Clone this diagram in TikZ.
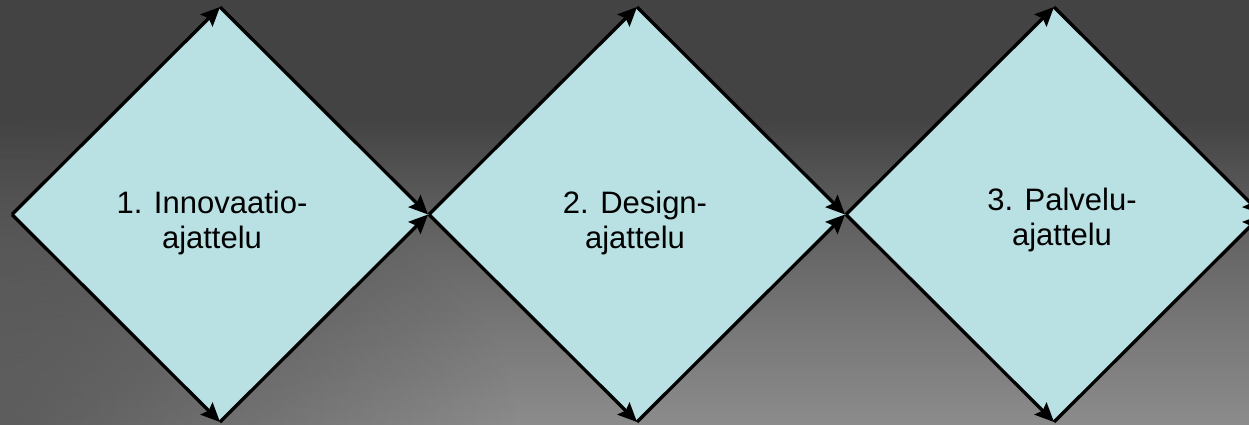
\documentclass[tikz,border=0pt]{standalone}
\usepackage{fontspec}
\setmainfont{Liberation Sans}
\usetikzlibrary{arrows.meta,fadings}
\definecolor{dfill}{HTML}{B9E0E3}
\definecolor{bgLight}{HTML}{8C8C8C}
\definecolor{bgMid}{HTML}{5E5E5E}
\definecolor{bgDark}{HTML}{434343}
\pgfdeclareverticalshading{bgv}{100bp}{color(0bp)=(bgLight); color(25bp)=(bgLight); color(50bp)=(bgMid); color(61bp)=(bgDark); color(100bp)=(bgDark)}
\tikzfading[name=softc, inner color=transparent!0, outer color=transparent!100]
\tikzset{
  arr/.style={draw=black, line width=3.3pt, -{Stealth[length=19pt,width=17pt,inset=3pt]}},
  dia/.style={fill=dfill, draw=none},
  lbl/.style={font=\fontsize{31}{35}\selectfont, align=center, anchor=base, inner sep=0pt}
}
\begin{document}
\begin{tikzpicture}[x=1pt,y=-1pt]
\useasboundingbox (0,0) rectangle (1249,425);
\begin{scope}
\clip (0,0) rectangle (1249,425);
\path[shading=bgv] (0,0) rectangle (1249,425);
\fill[black, fill opacity=0.35, path fading=softc] (0,440) ellipse [x radius=520, y radius=320];
\foreach \i/\cx in {1/220,2/637,3/1054}{
  \coordinate (L\i) at (\cx-208,214.5);
  \coordinate (T\i) at (\cx,7);
  \coordinate (R\i) at (\cx+208,214.5);
  \coordinate (B\i) at (\cx,422);
  \fill[dia] (L\i) -- (T\i) -- (R\i) -- (B\i) -- cycle;
}
\foreach \i in {1,2,3}{
  \draw[arr] (L\i) -- (T\i);
  \draw[arr] (L\i) -- (B\i);
  \draw[arr] (T\i) -- (R\i);
  \draw[arr] (B\i) -- (R\i);
}
\end{scope}
\node[lbl] (t1) at (212,248) {1. Innovaatio-\\ajattelu};
\node[lbl] (t2) at (635,248) {2. Design-\\ajattelu};
\node[lbl] (t3) at (1062,245) {3. Palvelu-\\ajattelu};
\end{tikzpicture}
\end{document}
